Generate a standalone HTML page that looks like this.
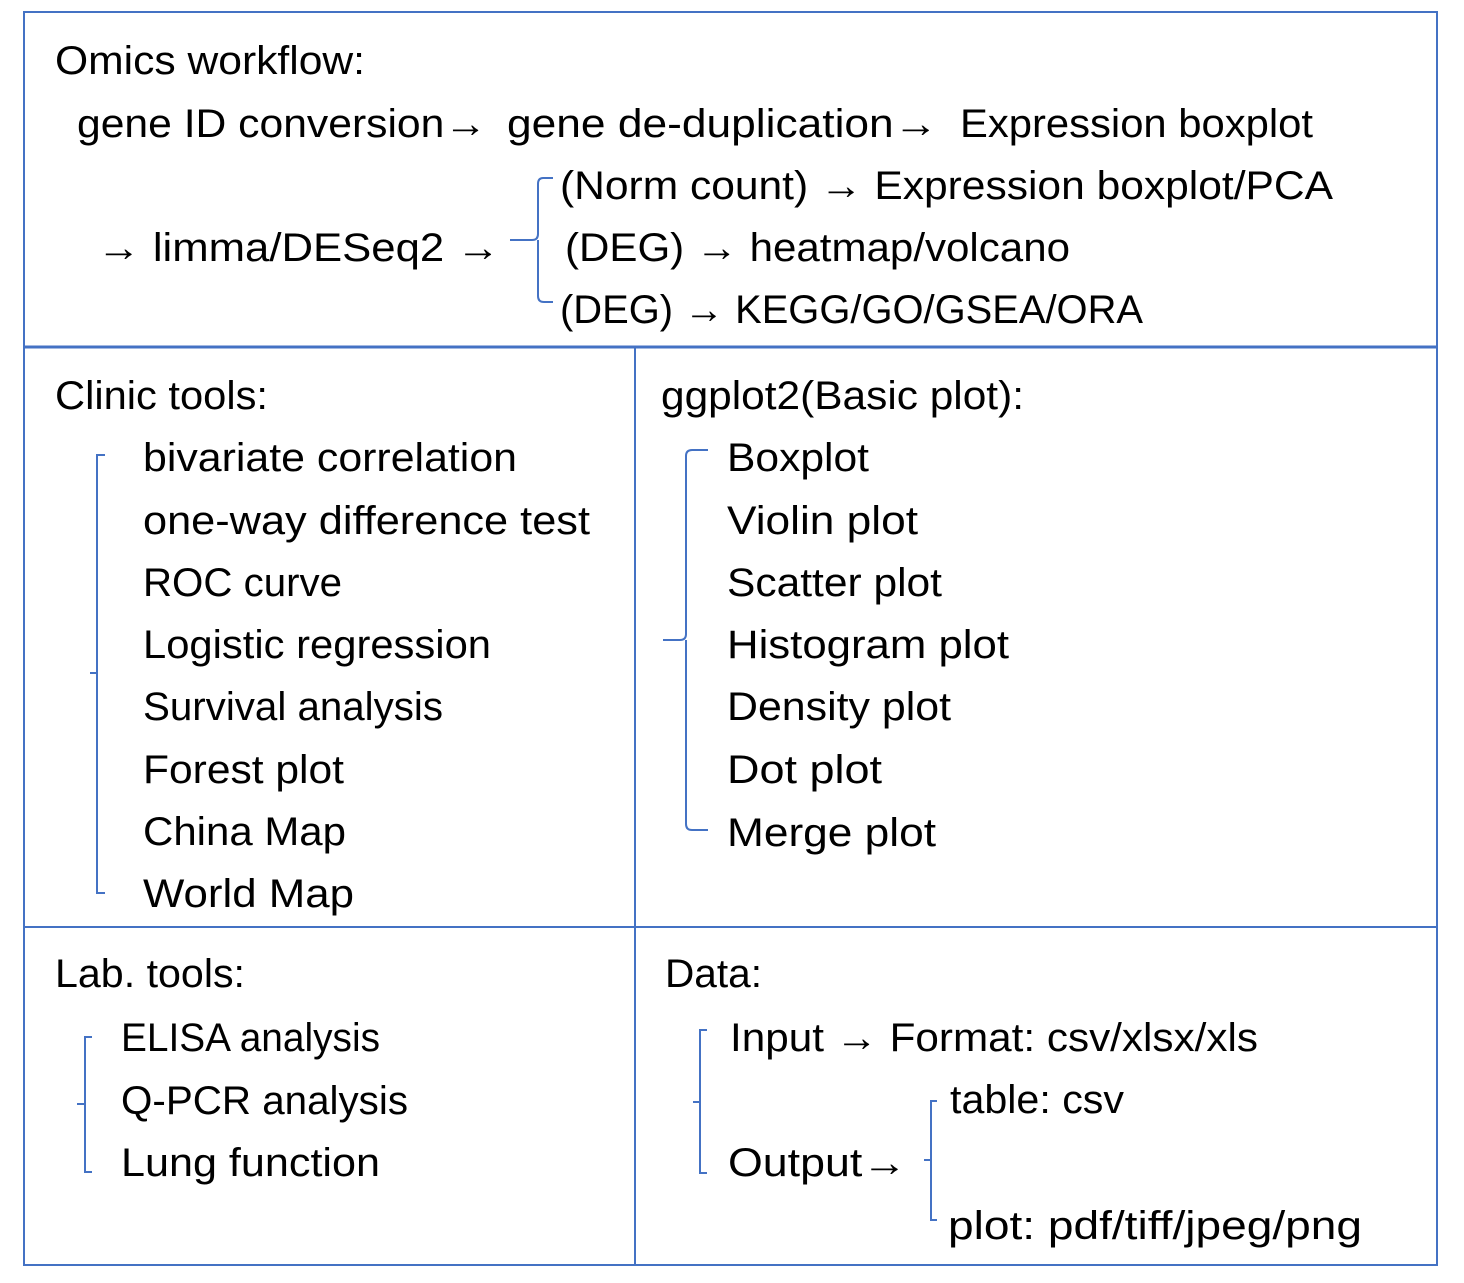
<!DOCTYPE html>
<html><head><meta charset="utf-8"><style>html,body{margin:0;padding:0;background:#fff}svg{display:block}</style></head>
<body>
<svg width="1464" height="1283" viewBox="0 0 1464 1283" xmlns="http://www.w3.org/2000/svg">
<rect x="0" y="0" width="1464" height="1283" fill="#fff"/>
<g stroke="#4472C4" fill="none">
<rect x="24" y="12" width="1413" height="1253" stroke-width="2"/>
<line x1="24" y1="347" x2="1437" y2="347" stroke-width="3"/>
<line x1="24" y1="927" x2="1437" y2="927" stroke-width="2"/>
<line x1="635" y1="347" x2="635" y2="1265" stroke-width="2"/>
<g stroke-width="2">
<path d="M553 178 H543 Q538 178 538 184 V234 Q538 240 532 240 H510 M538 240 Q538 246 538 250 V296 Q538 302 544 302 H553"/>
<path d="M105 455 H97 V893 H105 M97 673 H90"/>
<path d="M708 450 H692 Q686 450 686 456 V634 Q686 640 680 640 H663 M686 640 V824 Q686 830 692 830 H708"/>
<path d="M92 1037 H85 V1172 H92 M85 1104 H77"/>
<path d="M707 1030 H700 V1173 H707 M700 1102 H693"/>
<path d="M937 1101 H931 V1220 H937 M931 1160 H924"/>
</g>
</g>
<g font-family="Liberation Sans, sans-serif" font-size="40" fill="#000" lengthAdjust="spacingAndGlyphs">
<text x="55" y="74" textLength="310" lengthAdjust="spacingAndGlyphs">Omics workflow:</text>
<text x="77" y="137" textLength="410" lengthAdjust="spacingAndGlyphs">gene ID conversion→</text>
<text x="507" y="137" textLength="431" lengthAdjust="spacingAndGlyphs">gene de-duplication→</text>
<text x="960" y="137" textLength="353" lengthAdjust="spacingAndGlyphs">Expression boxplot</text>
<text x="560" y="199" textLength="773" lengthAdjust="spacingAndGlyphs">(Norm count) → Expression boxplot/PCA</text>
<text x="97" y="261" textLength="403" lengthAdjust="spacingAndGlyphs">→  limma/DESeq2 →</text>
<text x="565" y="261" textLength="505" lengthAdjust="spacingAndGlyphs">(DEG) → heatmap/volcano</text>
<text x="560" y="323" textLength="583" lengthAdjust="spacingAndGlyphs">(DEG) → KEGG/GO/GSEA/ORA</text>

<text x="55" y="409" textLength="213" lengthAdjust="spacingAndGlyphs">Clinic tools:</text>
<text x="143" y="471" textLength="374" lengthAdjust="spacingAndGlyphs">bivariate correlation</text>
<text x="143" y="534" textLength="447" lengthAdjust="spacingAndGlyphs">one-way difference test</text>
<text x="143" y="596" textLength="199" lengthAdjust="spacingAndGlyphs">ROC curve</text>
<text x="143" y="658" textLength="348" lengthAdjust="spacingAndGlyphs">Logistic regression</text>
<text x="143" y="720" textLength="300" lengthAdjust="spacingAndGlyphs">Survival analysis</text>
<text x="143" y="783" textLength="201" lengthAdjust="spacingAndGlyphs">Forest plot</text>
<text x="143" y="845" textLength="203" lengthAdjust="spacingAndGlyphs">China Map</text>
<text x="143" y="907" textLength="211" lengthAdjust="spacingAndGlyphs">World Map</text>

<text x="661" y="409" textLength="363" lengthAdjust="spacingAndGlyphs">ggplot2(Basic plot):</text>
<text x="727" y="471" textLength="142" lengthAdjust="spacingAndGlyphs">Boxplot</text>
<text x="727" y="534" textLength="191" lengthAdjust="spacingAndGlyphs">Violin plot</text>
<text x="727" y="596" textLength="215" lengthAdjust="spacingAndGlyphs">Scatter plot</text>
<text x="727" y="658" textLength="282" lengthAdjust="spacingAndGlyphs">Histogram plot</text>
<text x="727" y="720" textLength="224" lengthAdjust="spacingAndGlyphs">Density plot</text>
<text x="727" y="783" textLength="155" lengthAdjust="spacingAndGlyphs">Dot plot</text>
<text x="727" y="846" textLength="209" lengthAdjust="spacingAndGlyphs">Merge plot</text>

<text x="55" y="987" textLength="190" lengthAdjust="spacingAndGlyphs">Lab. tools:</text>
<text x="121" y="1051" textLength="259" lengthAdjust="spacingAndGlyphs">ELISA analysis</text>
<text x="121" y="1114" textLength="287" lengthAdjust="spacingAndGlyphs">Q-PCR analysis</text>
<text x="121" y="1176" textLength="259" lengthAdjust="spacingAndGlyphs">Lung function</text>

<text x="665" y="987" textLength="97" lengthAdjust="spacingAndGlyphs">Data:</text>
<text x="730" y="1051" textLength="528" lengthAdjust="spacingAndGlyphs">Input → Format: csv/xlsx/xls</text>
<text x="950" y="1113" textLength="174" lengthAdjust="spacingAndGlyphs">table: csv</text>
<text x="728" y="1176" textLength="179" lengthAdjust="spacingAndGlyphs">Output→</text>
<text x="948" y="1239" textLength="414" lengthAdjust="spacingAndGlyphs">plot: pdf/tiff/jpeg/png</text>
</g>
</svg>
</body></html>
